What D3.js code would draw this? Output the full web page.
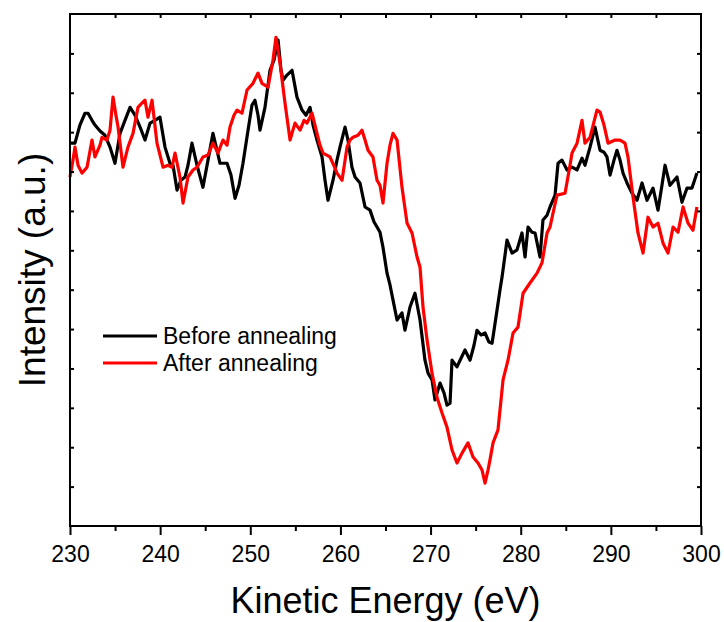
<!DOCTYPE html>
<html>
<head>
<meta charset="utf-8">
<script src="https://cdn.jsdelivr.net/npm/d3@7"></script>
<style>
  body { margin: 0; background: #fff; }
  svg { font-family: "Liberation Sans", Arial, sans-serif; }
</style>
</head>
<body>
<div id="chart"></div>
<script>
// Before annealing (black)
var beforeE = [230.0,230.55,231.1,231.66,232.0,232.44,232.77,233.33,233.88,234.44,234.99,235.55,236.1,236.66,237.21,237.77,238.32,238.88,239.43,239.98,
  240.54,241.09,241.43,241.87,242.31,242.76,243.09,243.53,244.09,244.75,245.31,245.86,246.31,246.64,247.42,247.86,248.31,248.75,249.19,249.75,
  250.19,250.52,250.86,251.08,251.63,252.19,252.63,253.08,253.41,253.63,254.07,254.63,255.18,255.74,256.18,256.63,256.96,257.4,257.96,258.29,
  258.62,259.18,259.62,259.95,260.51,260.84,261.28,261.62,262.17,262.73,263.28,263.73,264.06,264.39,264.72,265.17,265.5,265.83,266.28,266.83,
  267.16,267.72,268.27,268.83,269.38,269.72,270.16,270.49,271.05,271.49,271.82,272.16,272.38,272.93,273.38,273.82,274.38,274.82,275.15,275.6,
  276.04,276.48,276.82,277.04,277.37,277.7,277.93,278.26,278.48,279.04,279.59,280.14,280.48,280.81,281.25,281.59,282.14,282.47,282.92,283.25,
  283.81,284.14,284.58,285.14,285.69,286.25,286.8,287.13,287.69,288.24,288.8,289.24,289.57,289.91,290.35,290.68,291.02,291.35,291.79,292.35,
  292.9,293.46,294.01,294.68,295.23,295.67,296.01,296.56,297.34,297.89,298.45,299.0,299.55];
var beforeI = [9.72,9.72,10.18,10.48,10.48,10.30,10.18,10.03,9.92,9.62,9.21,9.97,10.30,10.63,10.43,10.13,9.80,10.23,10.30,10.38,
  9.62,9.21,9.16,8.53,8.78,8.86,9.16,9.72,9.16,8.60,9.29,9.97,9.54,9.21,9.21,8.91,8.32,8.65,9.21,10.05,
  10.69,10.81,10.43,10.05,10.63,11.57,11.83,12.34,11.57,11.32,11.45,11.57,10.89,10.56,10.43,10.63,10.18,9.80,9.37,8.78,
  8.27,8.78,9.29,9.62,10.13,9.80,9.11,8.86,8.71,8.10,8.02,7.72,7.59,7.46,7.08,6.42,6.12,5.74,5.23,5.41,
  4.97,5.56,5.91,5.23,4.21,3.88,3.71,3.20,3.63,3.38,3.07,3.12,4.21,4.04,4.26,4.47,4.21,4.59,4.97,4.85,
  4.90,4.67,4.64,4.97,5.48,5.99,6.32,6.88,7.26,6.93,7.01,7.44,6.83,7.59,7.46,7.44,6.83,7.77,7.89,8.10,
  8.40,9.21,9.29,9.04,9.11,9.04,9.34,9.16,9.62,10.13,9.54,9.49,9.37,8.91,9.29,9.54,9.29,8.96,8.71,8.45,
  8.27,8.71,8.27,8.58,8.02,8.65,9.16,8.65,8.86,8.22,8.58,8.58,8.96];

// After annealing (red)
var afterE = [230.0,230.33,230.55,230.89,231.33,231.89,232.44,232.77,233.33,233.55,234.1,234.44,234.77,235.1,235.33,235.88,236.43,236.99,237.54,237.99,
  238.32,238.65,239.1,239.65,240.32,240.87,241.32,241.65,242.2,242.54,243.09,243.65,244.09,244.75,245.31,245.86,246.42,246.97,247.42,247.75,
  248.19,248.53,249.08,249.64,250.3,250.86,251.3,251.97,252.52,252.85,253.3,253.85,254.41,254.96,255.52,255.96,256.29,256.85,257.4,257.73,
  258.07,258.84,259.4,259.62,260.18,260.73,261.06,261.4,261.95,262.39,262.73,263.06,263.61,264.06,264.39,264.72,265.17,265.5,265.83,266.28,
  266.83,267.39,267.94,268.5,268.83,269.16,269.61,270.16,270.71,271.27,271.82,272.38,272.93,273.49,274.15,274.71,275.26,275.71,276.04,276.37,
  276.59,276.93,277.48,278.04,278.59,279.15,279.7,280.26,281.03,281.81,282.36,282.92,283.25,283.58,284.03,284.92,285.47,285.69,286.25,286.8,
  287.13,287.69,288.46,288.8,289.24,289.69,290.46,291.02,291.57,291.9,292.46,293.01,293.57,294.12,294.68,295.23,295.79,296.34,296.9,297.45,
  298.01,298.56,299.11,299.55];
var afterI = [8.86,9.29,9.62,9.16,8.96,9.11,9.80,9.37,9.67,9.87,9.80,10.05,10.89,10.43,10.13,9.11,9.62,9.97,10.63,10.74,
  10.81,10.38,10.81,9.72,9.11,9.16,9.11,9.47,8.86,8.20,8.86,9.04,9.11,9.37,9.42,9.72,9.47,9.80,9.67,10.13,
  10.43,10.56,10.48,11.07,11.24,11.50,11.24,11.14,11.83,12.41,11.75,10.74,9.80,10.23,10.05,10.30,10.23,10.48,9.97,9.67,
  9.47,9.37,9.09,8.96,8.78,9.62,9.80,9.87,9.92,10.05,9.80,9.54,9.37,8.78,8.65,8.20,9.21,9.67,9.97,9.80,
  8.60,7.69,7.44,6.83,6.57,5.56,4.72,3.88,3.27,2.87,2.51,1.93,1.60,1.85,2.11,1.75,1.60,1.42,1.09,1.42,
  1.68,2.11,2.44,3.71,4.21,4.90,5.05,5.91,6.17,6.42,6.68,7.44,7.59,7.94,8.40,8.45,9.16,9.47,9.72,10.30,
  9.72,9.87,10.56,10.51,10.18,9.72,9.80,9.80,9.72,9.37,8.35,7.44,6.93,7.84,7.59,7.69,7.18,6.93,7.59,7.46,
  8.10,7.69,7.51,8.10];

var xTicks = [230, 240, 250, 260, 270, 280, 290, 300];
var seriesNames = ["Before annealing", "After annealing"];
var seriesColors = ["#000000", "#ff0000"];

var width = 724, height = 622;
var margin = { left: 70, top: 14, right: 23, bottom: 96 };
var plotW = width - margin.left - margin.right;
var plotH = height - margin.top - margin.bottom;

var x = d3.scaleLinear().domain([230, 300]).range([0, plotW]);
var y = d3.scaleLinear().domain([0, 13]).range([plotH, 0]);

var svg = d3.select('#chart').append('svg')
  .attr('width', width).attr('height', height);
var g = svg.append('g')
  .attr('transform', 'translate(' + margin.left + ',' + margin.top + ')');

var line = d3.line().x(function (d) { return x(d[0]); }).y(function (d) { return y(d[1]); });

var series = [d3.zip(beforeE, beforeI), d3.zip(afterE, afterI)];
g.selectAll('path.curve')
  .data(series)
  .enter().append('path')
  .attr('class', 'curve')
  .attr('d', line)
  .attr('fill', 'none')
  .attr('stroke', function (d, i) { return seriesColors[i]; })
  .attr('stroke-width', 3.2)
  .attr('stroke-linejoin', 'round');

// axes
var minor = d3.range(235, 300, 10);
var bottom = g.append('g').attr('transform', 'translate(0,' + plotH + ')')
  .call(d3.axisBottom(x).tickValues(xTicks).tickFormat(d3.format('d')).tickSize(9).tickPadding(11).tickSizeOuter(0));
g.append('g').attr('transform', 'translate(0,' + plotH + ')')
  .call(d3.axisBottom(x).tickValues(minor).tickFormat('').tickSize(5).tickSizeOuter(0));
g.append('g').call(d3.axisTop(x).tickValues(d3.range(235, 300, 5)).tickFormat('').tickSize(-4).tickSizeOuter(0));
g.append('g').call(d3.axisLeft(y).tickValues(d3.range(1, 13)).tickFormat('').tickSize(-4).tickSizeOuter(0));
g.append('g').attr('transform', 'translate(' + plotW + ',0)')
  .call(d3.axisRight(y).tickValues(d3.range(1, 13)).tickFormat('').tickSize(-4).tickSizeOuter(0));

g.selectAll('.domain').remove();
g.selectAll('.tick line').attr('stroke', '#000').attr('stroke-width', 2);
bottom.selectAll('text').attr('font-size', 23).attr('fill', '#000')
  .style('font-family', '"Liberation Sans", Arial, sans-serif');

g.append('rect')
  .attr('width', plotW).attr('height', plotH)
  .attr('fill', 'none').attr('stroke', '#000').attr('stroke-width', 2);

// titles
svg.append('text')
  .attr('x', margin.left + plotW / 2).attr('y', 613)
  .attr('text-anchor', 'middle').attr('font-size', 36)
  .text('Kinetic Energy (eV)');
svg.append('text')
  .attr('transform', 'translate(45,' + (margin.top + plotH / 2) + ') rotate(-90)')
  .attr('text-anchor', 'middle').attr('font-size', 37)
  .text('Intensity (a.u.)');

// legend
var legend = svg.append('g').attr('transform', 'translate(103,336)');
var items = legend.selectAll('g').data(seriesNames).enter().append('g')
  .attr('transform', function (d, i) { return 'translate(0,' + (i * 27) + ')'; });
items.append('line').attr('x1', 0).attr('x2', 54).attr('y1', 0).attr('y2', 0)
  .attr('stroke', function (d, i) { return seriesColors[i]; }).attr('stroke-width', 3);
items.append('text').attr('x', 60).attr('y', 8).attr('font-size', 23).text(function (d) { return d; });
</script>
</body>
</html>
